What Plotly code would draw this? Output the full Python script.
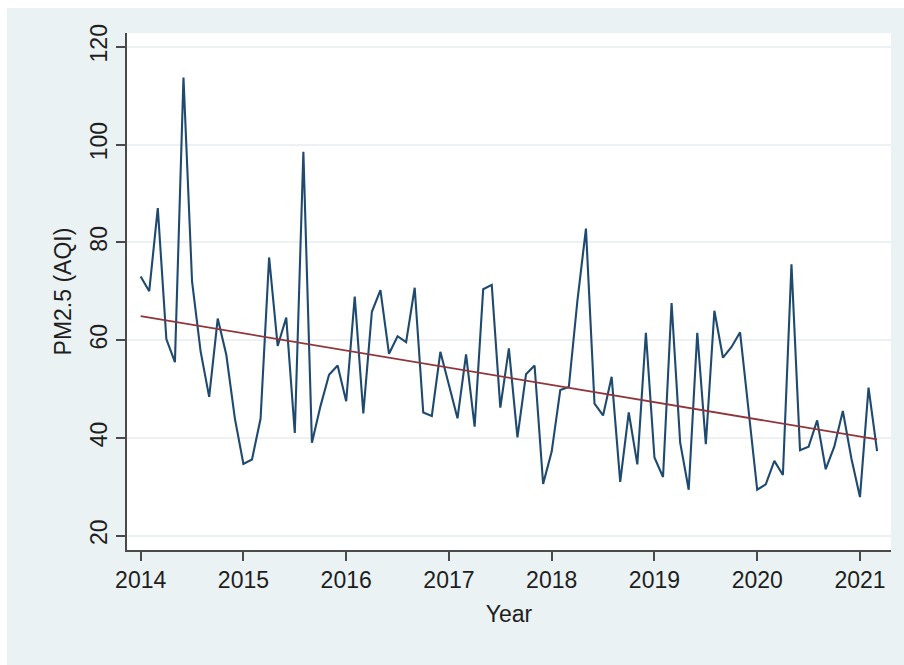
import numpy as np
import plotly.graph_objects as go

# Monthly PM2.5 readings, Jan 2014 – Mar 2021
start_year = 2014
pm25 = [
    73.0, 70.0, 87.0, 60.2, 55.5, 113.7, 72.0, 57.7, 48.4, 64.4, 57.0, 44.0,
    34.7, 35.6, 43.9, 76.9, 58.8, 64.6, 41.0, 98.5, 39.0, 46.5, 52.9, 54.8,
    47.5, 68.9, 45.0, 65.8, 70.2, 57.2, 60.8, 59.6, 70.7, 45.2, 44.5, 57.6,
    50.8, 44.0, 57.1, 42.3, 70.4, 71.3, 46.2, 58.3, 40.1, 53.0, 54.8, 30.6,
    37.2, 49.8, 50.4, 68.0, 82.8, 47.0, 44.6, 52.5, 31.0, 45.2, 34.6, 61.5,
    36.0, 32.0, 67.6, 39.1, 29.4, 61.5, 38.7, 66.0, 56.4, 58.6, 61.6, 45.5,
    29.4, 30.5, 35.3, 32.4, 75.5, 37.5, 38.2, 43.6, 33.6, 38.2, 45.5, 35.8,
    27.9, 50.3, 37.3,
]
year_ticks = [2014, 2015, 2016, 2017, 2018, 2019, 2020, 2021]
pm_ticks = [20, 40, 60, 80, 100, 120]

t = start_year + np.arange(len(pm25)) / 12.0
y = np.array(pm25)

# Linear fit of PM2.5 on time
slope, intercept = np.polyfit(t, y, 1)
fit = intercept + slope * t

FONT = "Liberation Sans, Arial, Helvetica, sans-serif"
BG = "#eaf2f3"
AXIS = "#4a4a4a"

fig = go.Figure()
fig.add_trace(go.Scatter(
    x=t, y=y, mode="lines",
    line=dict(color="#1f4a70", width=2.1),
    showlegend=False,
))
fig.add_trace(go.Scatter(
    x=t, y=fit, mode="lines",
    line=dict(color="#90353b", width=1.8),
    showlegend=False,
))

# white strips along the top and left edge of the page
W, H = 904, 665
L, R, T, B = 127, 13, 33, 115
pw, ph = W - L - R, H - T - B


def px_x(v):
    return (v - L) / pw


def px_y(v):
    return (H - B - v) / ph


fig.add_shape(type="rect", xref="paper", yref="paper", layer="below",
              x0=px_x(0), x1=px_x(W + 5), y0=px_y(8), y1=px_y(-5),
              fillcolor="white", line=dict(width=0))
fig.add_shape(type="rect", xref="paper", yref="paper", layer="below",
              x0=px_x(-5), x1=px_x(7), y0=px_y(H + 5), y1=px_y(-5),
              fillcolor="white", line=dict(width=0))

fig.update_layout(
    width=W, height=H,
    margin=dict(l=L, r=R, t=T, b=B, autoexpand=False),
    paper_bgcolor=BG,
    plot_bgcolor="white",
    font=dict(family=FONT, size=23, color="#1e1e1e"),
    showlegend=False,
)
fig.update_xaxes(
    range=[2013.867, 2021.302],
    tickvals=year_ticks,
    ticktext=[str(v) for v in year_ticks],
    showgrid=False, zeroline=False,
    showline=True, linecolor=AXIS, linewidth=1.5,
    ticks="outside", ticklen=9, tickwidth=1.5, tickcolor=AXIS,
    tickfont=dict(size=23),
    title=dict(text="Year", font=dict(size=23), standoff=14),
    automargin=False,
)
fig.update_yaxes(
    range=[17.08, 122.8],
    tickvals=pm_ticks,
    ticktext=[str(v) for v in pm_ticks],
    tickangle=-90,
    showgrid=True, gridcolor="#edf1f3", gridwidth=2,
    zeroline=False,
    showline=True, linecolor=AXIS, linewidth=1.5,
    ticks="outside", ticklen=9, tickwidth=1.5, tickcolor=AXIS,
    tickfont=dict(size=23),
    title=dict(text="PM2.5 (AQI)", font=dict(size=23), standoff=8),
    automargin=False,
)

fig.write_html("out.html")
